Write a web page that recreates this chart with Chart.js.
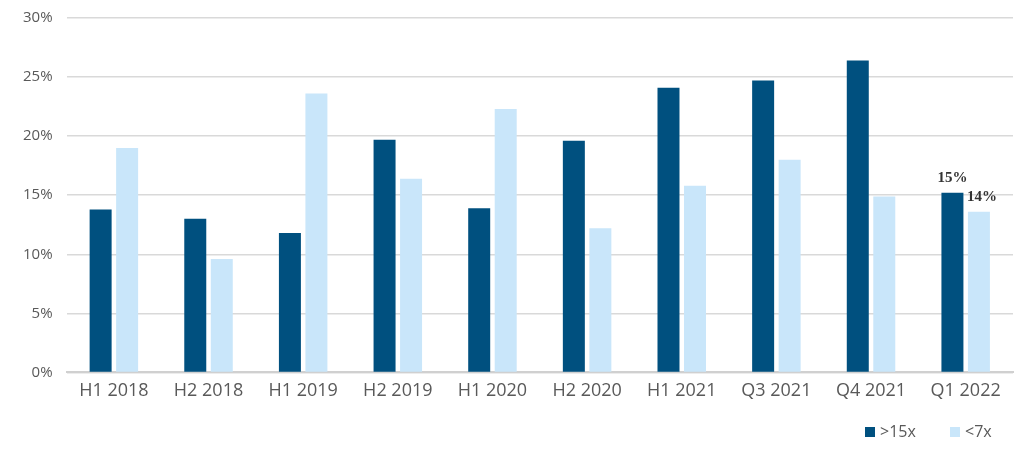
<!DOCTYPE html>
<html>
<head>
<meta charset="utf-8">
<script src="https://cdn.jsdelivr.net/npm/chart.js@4/dist/chart.umd.min.js"></script>
<style>
  html, body { margin: 0; padding: 0; background: #ffffff; }
  #wrap { width: 1024px; height: 458px; position: relative; }
</style>
</head>
<body>
<div id="wrap"><canvas id="c"></canvas></div>
<script>
const categories = ["H1 2018", "H2 2018", "H1 2019", "H2 2019", "H1 2020", "H2 2020", "H1 2021", "Q3 2021", "Q4 2021", "Q1 2022"];
const seriesAbove15x = [13.8, 13.0, 11.8, 19.7, 13.9, 19.6, 24.1, 24.7, 26.4, 15.2];
const seriesBelow7x = [19.0, 9.6, 23.6, 16.4, 22.3, 12.2, 15.8, 18.0, 14.9, 13.6];
const seriesNames = [">15x", "<7x"];
const yTicks = [0, 5, 10, 15, 20, 25, 30];
const labelledIndex = 9;
const labelTexts = ["15%", "14%"];

const textColor = "#595959";
const uiFont = "'Open Sans', 'Noto Sans', sans-serif";

const lastLabels = {
  id: "lastLabels",
  afterDatasetsDraw(chart) {
    const ctx = chart.ctx;
    ctx.save();
    ctx.font = "bold 15px 'Liberation Serif', 'DejaVu Serif', serif";
    ctx.fillStyle = "#333333";
    ctx.textAlign = "center";
    ctx.textBaseline = "bottom";
    chart.data.datasets.forEach((ds, di) => {
      const bar = chart.getDatasetMeta(di).data[labelledIndex];
      ctx.fillText(labelTexts[di], bar.x + (di === 1 ? 3 : 0), bar.y - 7);
    });
    ctx.restore();
  }
};

// legend drawn at the bottom right, positions
const bottomLegend = {
  id: "bottomLegend",
  afterDraw(chart) {
    const ctx = chart.ctx;
    const starts = [865, 950];
    const cy = 432;
    ctx.save();
    ctx.font = "16px " + uiFont;
    ctx.textBaseline = "middle";
    ctx.textAlign = "left";
    chart.data.datasets.forEach((ds, i) => {
      ctx.fillStyle = ds.backgroundColor;
      ctx.fillRect(starts[i], cy - 5, 10, 10);
      ctx.fillStyle = textColor;
      ctx.fillText(ds.label, starts[i] + 15, cy);
    });
    ctx.restore();
  }
};

new Chart(document.getElementById("c"), {
  type: "bar",
  data: {
    labels: categories,
    datasets: [
      { label: seriesNames[0], data: seriesAbove15x, backgroundColor: "#00507f", categoryPercentage: 0.56, barPercentage: 0.83 },
      { label: seriesNames[1], data: seriesBelow7x, backgroundColor: "#c9e6fa", categoryPercentage: 0.56, barPercentage: 0.83 }
    ]
  },
  options: {
    responsive: true,
    maintainAspectRatio: false,
    animation: false,
    layout: { padding: { left: 9, right: 11, top: 0, bottom: 56 } },
    plugins: {
      tooltip: { enabled: false },
      legend: { display: false }
    },
    scales: {
      x: {
        grid: { display: false },
        border: { color: "#d0d0d0", width: 2 },
        ticks: { color: textColor, font: { family: uiFont, size: 18 }, padding: 0, maxRotation: 0 }
      },
      y: {
        min: 0,
        max: 30,
        afterBuildTicks(axis) { axis.ticks = yTicks.map(v => ({ value: v })); },
        afterFit(axis) { axis.paddingTop = 18; },
        grid: { color: "#d9d9d9", lineWidth: 1.5, drawTicks: false },
        border: { display: false },
        ticks: {
          color: textColor,
          font: { family: uiFont, size: 15 },
          padding: 14,
          callback: v => v + "%"
        }
      }
    }
  },
  plugins: [lastLabels, bottomLegend]
});
</script>
</body>
</html>
